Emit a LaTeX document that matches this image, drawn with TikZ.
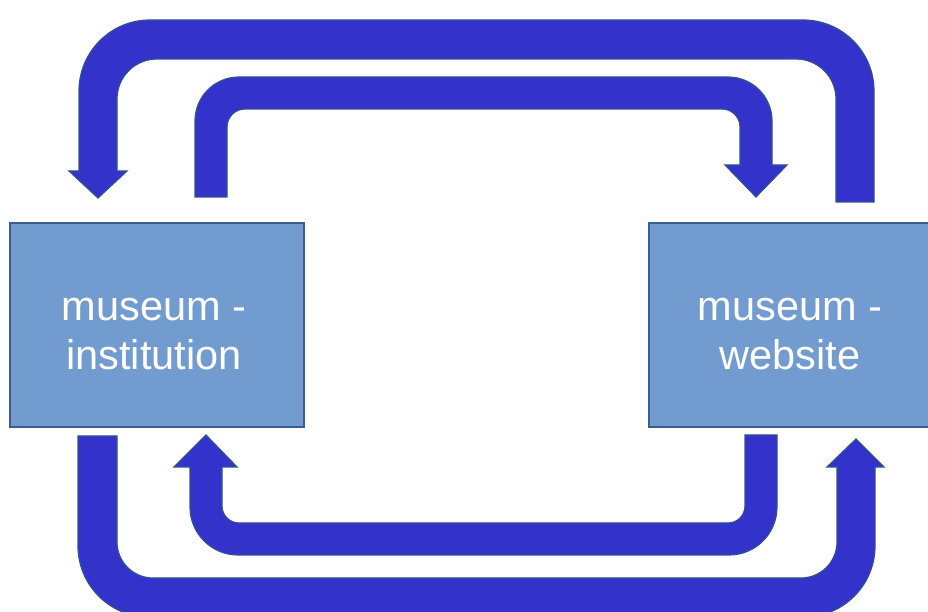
\documentclass[tikz,border=0pt]{standalone}
\usepackage{fontspec}
\setmainfont{Liberation Sans}
\definecolor{arrowfill}{HTML}{3333CC}
\definecolor{arrowline}{HTML}{34508F}
\definecolor{boxfill}{HTML}{729BD0}
\definecolor{boxline}{HTML}{3A5E8E}
\tikzset{
  bentarrow/.style={fill=arrowfill, draw=arrowline, line width=1.2pt, line join=miter},
  museumbox/.style={rectangle, fill=boxfill, draw=boxline, line width=2.8pt, inner sep=0pt},
  boxtext/.style={inner sep=0pt, text=white, align=center,
    font=\fontsize{41.5}{49}\selectfont}
}
\begin{document}
\begin{tikzpicture}[x=1pt,y=1pt]
\useasboundingbox (0,0) rectangle (928,612);
\clip (0,0) rectangle (928,612);
\fill[white] (0,0) rectangle (928,612);
% boxes
\node[museumbox, minimum width=294pt, minimum height=204pt] (inst) at (157,287) {};
\node[museumbox, minimum width=284pt, minimum height=204pt] (web) at (791,287) {};
\node[boxtext] (insttext) at ([xshift=-3pt,yshift=-9pt]inst.center) {museum -\\institution};
\node[boxtext] (webtext) at ([xshift=-1pt,yshift=-9pt]web.center) {museum -\\website};
% outer top arrow: website -> institution
\path[bentarrow] (836,410) -- (836,513) arc[start angle=0,end angle=90,radius=40]
  -- (157,553) arc[start angle=90,end angle=180,radius=40]
  -- (117,441) -- (127,441) -- (98,414) -- (69,441) -- (79,441)
  -- (79,521) arc[start angle=180,end angle=90,radius=71]
  -- (803,592) arc[start angle=90,end angle=0,radius=71]
  -- (874,410) -- cycle;
% inner top arrow: institution -> website
\path[bentarrow] (195,415) -- (195,491) arc[start angle=180,end angle=90,radius=44]
  -- (728,535) arc[start angle=90,end angle=0,radius=44]
  -- (772,447) -- (787,447) -- (756,415) -- (725,447) -- (740,447)
  -- (740,485) arc[start angle=0,end angle=90,radius=18]
  -- (245,503) arc[start angle=90,end angle=180,radius=18]
  -- (227,415) -- cycle;
% inner bottom arrow: website -> institution
\path[bentarrow] (745,177) -- (745,106) arc[start angle=0,end angle=-90,radius=17]
  -- (239,89) arc[start angle=-90,end angle=-180,radius=17]
  -- (222,145) -- (237,145) -- (206,177) -- (174,145) -- (190,145)
  -- (190,105) arc[start angle=180,end angle=270,radius=48]
  -- (729,57) arc[start angle=270,end angle=360,radius=48]
  -- (777,177) -- cycle;
% outer bottom arrow: institution -> website
\path[bentarrow] (78,176) -- (78,66) arc[start angle=180,end angle=270,radius=71]
  -- (804,-5) arc[start angle=270,end angle=360,radius=71]
  -- (875,145) -- (884,145) -- (856,173) -- (827,145) -- (837,145)
  -- (837,70) arc[start angle=0,end angle=-90,radius=36]
  -- (153,34) arc[start angle=-90,end angle=-180,radius=36]
  -- (117,176) -- cycle;
\end{tikzpicture}
\end{document}
